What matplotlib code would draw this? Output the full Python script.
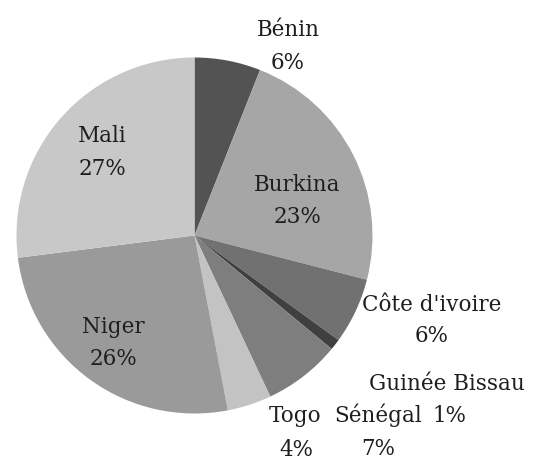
import matplotlib
matplotlib.use("Agg")
import matplotlib.pyplot as plt

countries = ["Bénin", "Burkina", "Côte d'ivoire", "Guinée Bissau",
             "Sénégal", "Togo", "Niger", "Mali"]
shares = [6, 23, 6, 1, 7, 4, 26, 27]

colors = ["#535353", "#a6a6a6", "#717171", "#404040",
          "#7e7e7e", "#c3c3c3", "#9a9a9a", "#c8c8c8"]

# label baselines in pie units (radius = 1): name line, then percent line
name_pos = [(0.525, 1.121), (0.576, 0.250), (1.334, -0.424), (1.419, -0.868),
            (1.031, -1.048), (0.565, -1.048), (-0.458, -0.548), (-0.520, 0.525)]
pct_pos = [(0.525, 0.935), (0.576, 0.070), (1.334, -0.598), (1.435, -1.048),
           (1.031, -1.233), (0.570, -1.239), (-0.458, -0.728), (-0.520, 0.340)]


def main() -> None:
    plt.rcParams["font.family"] = ["DejaVu Serif"]
    fig = plt.figure(figsize=(5.35, 4.62), dpi=100)
    ax = fig.add_axes([16.5 / 535, 1 - 413.5 / 462, 356 / 535, 356 / 462])

    ax.pie(shares, colors=colors, startangle=90, counterclock=False,
           radius=1, wedgeprops={"linewidth": 0})
    ax.set_xlim(-1, 1)
    ax.set_ylim(-1, 1)
    ax.set_aspect("equal")
    ax.axis("off")

    style = dict(ha="center", va="baseline", fontsize=15.5,
                 color="#1e1e1e", clip_on=False)
    for name, val, (nx, ny), (px, py) in zip(countries, shares, name_pos, pct_pos):
        ax.text(nx, ny, name, **style)
        ax.text(px, py, f"{val}%", **style)

    fig.savefig("out.png", dpi=100)
    plt.close(fig)


if __name__ == "__main__":
    main()
